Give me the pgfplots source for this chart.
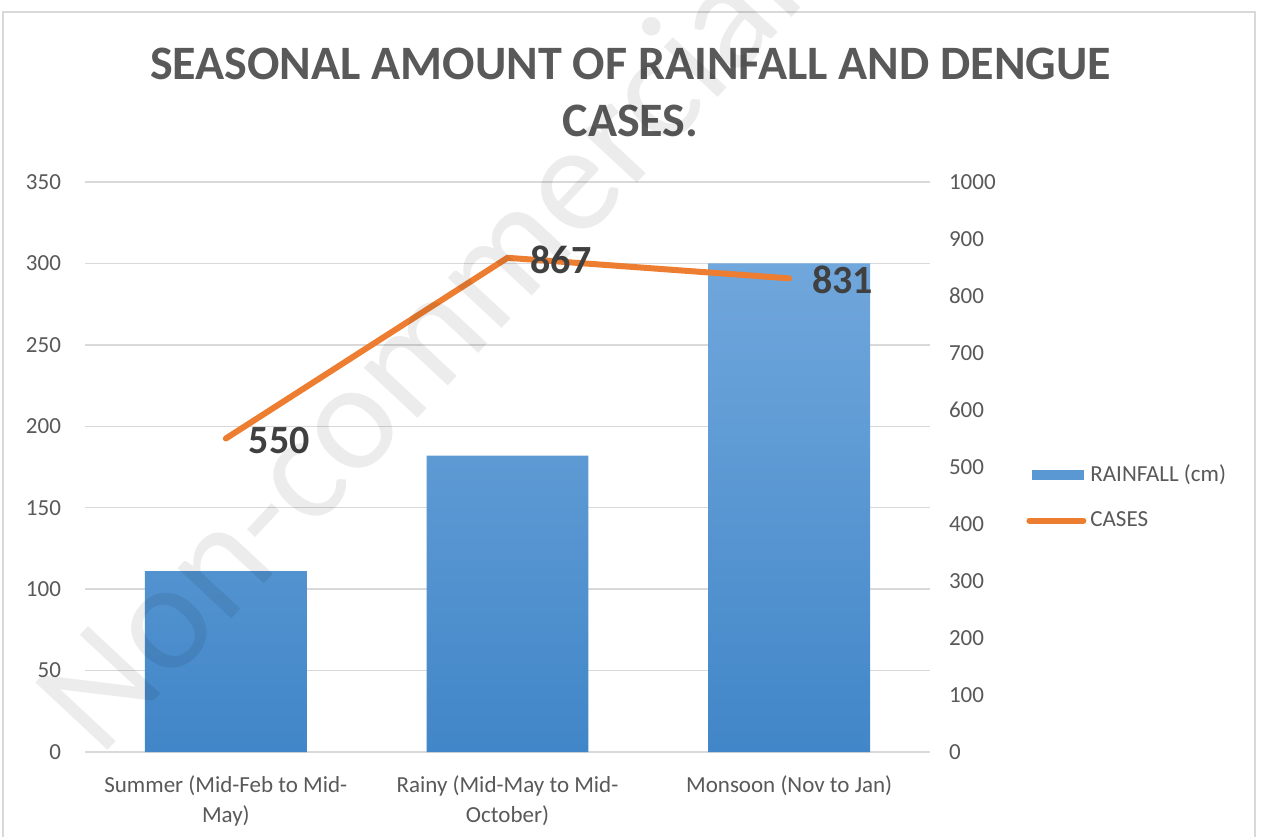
\documentclass[border=0pt]{standalone}
\usepackage{pgfplots}
\pgfplotsset{compat=1.18}
\usepackage{fontspec}
\setmainfont{Carlito}
\definecolor{barTop}{HTML}{70A7DC}
\definecolor{barBot}{HTML}{4186C8}
\definecolor{barMid}{HTML}{5A98D3}
\definecolor{lineOr}{HTML}{ED7D31}
\definecolor{gridGray}{HTML}{D9D9D9}
\definecolor{tickGray}{HTML}{595959}
\definecolor{labGray}{HTML}{404040}
\definecolor{frameGray}{HTML}{D9D9D9}
\begin{document}
\begin{tikzpicture}
\useasboundingbox (0,0) rectangle (630.5pt,418pt);
\fill[white] (0,0) rectangle (630.5pt,418pt);
\draw[frameGray, line width=0.8pt] (1.5pt,-2pt) -- (1.5pt,412pt) -- (627.5pt,412pt) -- (627.5pt,-2pt);
\node[font=\bfseries\fontsize{24}{28}\selectfont, text=tickGray, anchor=base] at (315.25pt,378.2pt) {SEASONAL AMOUNT OF RAINFALL AND DENGUE};
\node[font=\bfseries\fontsize{24}{28}\selectfont, text=tickGray, anchor=base] at (315.25pt,349.7pt) {CASES.};
\begin{axis}[
  at={(42.5pt,42pt)}, anchor=south west,
  scale only axis, width=422.5pt, height=285pt,
  xmin=-0.5, xmax=2.5, ymin=0, ymax=350,
  ytick={0,50,...,350},
  xtick={0,1,2},
  xticklabels={{Summer (Mid-Feb to Mid-\\May)},{Rainy (Mid-May to Mid-\\October)},{Monsoon (Nov to Jan)}},
  axis x line*=bottom, axis y line*=left,
  y axis line style={draw=none},
  x axis line style={draw=gridGray, line width=0.8pt},
  major tick length=0pt,
  ymajorgrids, grid style={gridGray, line width=0.7pt},
  /pgf/number format/assume math mode=true,
  /pgf/number format/1000 sep={},
  yticklabel style={font=\fontsize{11.5}{13}\selectfont, text=tickGray, xshift=-8.5pt},
  xticklabel style={font=\fontsize{11.5}{15}\selectfont, text=tickGray, align=center, yshift=-8.5pt},
]
\addplot[ybar, bar width=0.575, draw=none, top color=barTop, bottom color=barBot] coordinates {(0,111) (1,182) (2,300)};
\end{axis}
\begin{axis}[
  at={(42.5pt,42pt)}, anchor=south west,
  scale only axis, width=422.5pt, height=285pt,
  xmin=-0.5, xmax=2.5, ymin=0, ymax=1000,
  ytick={0,100,...,1000},
  axis x line=none, axis y line*=right,
  y axis line style={draw=none},
  major tick length=0pt,
  /pgf/number format/assume math mode=true,
  /pgf/number format/1000 sep={},
  yticklabel style={font=\fontsize{11.5}{13}\selectfont, text=tickGray, xshift=6pt},
  legend style={at={(axis description cs:1.1136,0.447)}, anchor=west, draw=none, fill=none,
    font=\fontsize{11.5}{13}\selectfont, text=tickGray, inner sep=0pt, row sep=9.5pt},
  legend cell align=left,
]
\addlegendimage{draw=none, legend image code/.code={\fill[barMid, draw=none] (1.5pt,-2.5pt) rectangle (27.5pt,2.5pt);}}
\addlegendentry{RAINFALL (cm)}
\addplot[lineOr, line width=3pt, line cap=round, line join=miter,
  point meta=explicit symbolic, nodes near coords,
  nodes near coords style={anchor=west, inner sep=0pt, xshift=10pt, yshift=-1pt,
    font=\bfseries\fontsize{20}{24}\selectfont, text=labGray},
  legend image code/.code={\draw[lineOr, line width=3pt, line cap=round] (0pt,0pt) -- (27pt,0pt);}]
  coordinates {(0,550) [550] (1,867) [867] (2,831) [831]};
\addlegendentry{CASES}
\end{axis}
\node[font=\fontsize{77}{80}\selectfont, text=black, text opacity=0.075, rotate=47] at (208pt,246.5pt) {Non-commercial};
\end{tikzpicture}
\end{document}
